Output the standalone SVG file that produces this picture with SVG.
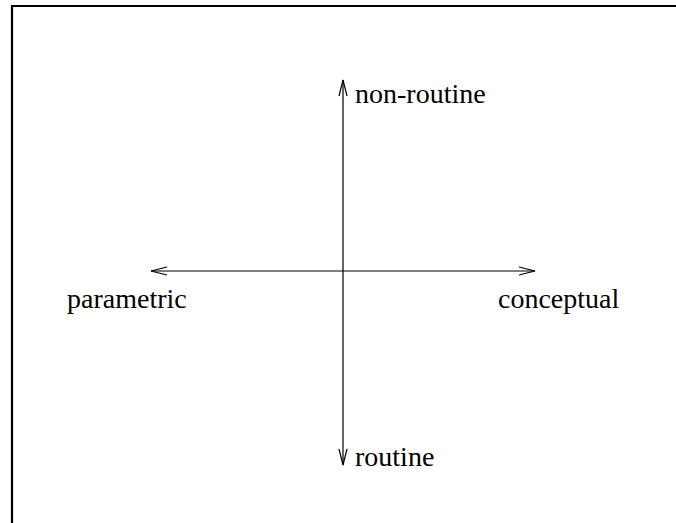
<svg xmlns="http://www.w3.org/2000/svg" width="676" height="523" viewBox="0 0 676 523">
<style>
.ax{stroke:#000;stroke-width:1.2;fill:none}
.hd{stroke:#000;stroke-width:1.2;fill:none}
.lb{font-family:"Liberation Serif","Times New Roman",serif;font-size:28px;fill:#000}
</style>
<rect width="676" height="523" fill="#fff"/>
<path d="M12 523 V6 H676" stroke="#000" stroke-width="2.2" fill="none"/>
<g id="connectors">
<line class="ax" x1="343" y1="80" x2="343" y2="465"/>
<line class="ax" x1="151" y1="271" x2="535" y2="271"/>
<path class="hd" d="M339 96 L343 80 L347 96"/>
<path class="hd" d="M339 449 L343 465 L347 449"/>
<path class="hd" d="M167 267 L151 271 L167 275"/>
<path class="hd" d="M519 267 L535 271 L519 275"/>
</g>
<g id="non-routine"><text class="lb" x="355" y="103">non-routine</text></g>
<g id="routine"><text class="lb" x="355" y="466">routine</text></g>
<g id="parametric"><text class="lb" x="67" y="308">parametric</text></g>
<g id="conceptual"><text class="lb" x="498" y="308">conceptual</text></g>
</svg>
